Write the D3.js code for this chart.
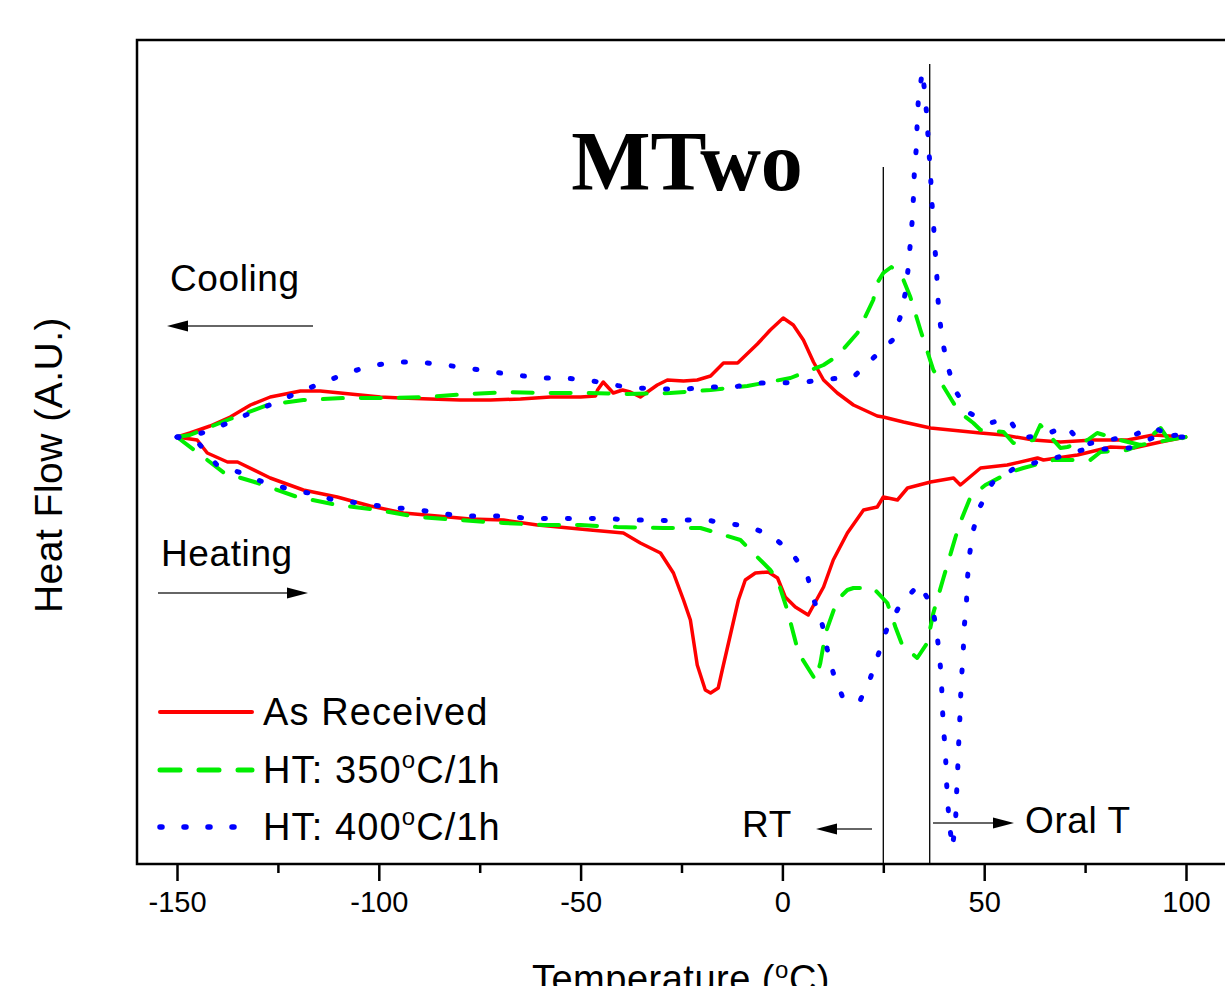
<!DOCTYPE html>
<html>
<head>
<meta charset="utf-8">
<script src="https://cdn.jsdelivr.net/npm/d3@7"></script>
<style>
  body { margin: 0; background: #fff; }
  svg text { font-family: "Liberation Sans", Arial, sans-serif; fill: #000; }
</style>
</head>
<body>
<div id="chart"></div>
<script>
// Temperature (deg C), heat flow (A.U.)
var asReceivedCooling = [
    [-150, 0], [-146.8, .04], [-141.8, .11], [-136.8, .20], [-131.8, .32], [-126.9, .40],
    [-121.9, .44], [-119.4, .46], [-114.5, .46], [-109.5, .44], [-104.6, .42], [-99.6, .40],
    [-94.6, .39], [-87.2, .38], [-79.8, .37], [-72.3, .37], [-64.9, .38], [-57.5, .40],
    [-50.0, .40], [-46.3, .41], [-45.8, .47], [-44.4, .55], [-41.9, .44], [-39.6, .47],
    [-37.7, .45], [-35.2, .40], [-31.0, .52], [-28.5, .57], [-24.5, .56], [-21.1, .57],
    [-17.8, .61], [-14.6, .74], [-11.1, .74], [-6.2, .93], [-3.0, 1.07], [0.2, 1.19],
    [2.7, 1.12], [5.2, .97], [7.7, .75], [10.2, .57], [13.6, .44], [17.6, .32], [23.5, .21],
    [25.0, .20], [30.0, .15], [36.7, .09], [49.1, .04], [54.8, .02], [62.2, -.03],
    [68.9, -.05], [77.1, -.03], [85.5, -.03], [91.9, .02], [99.9, 0]
];
var asReceivedHeating = [
    [-150, 0], [-145, -.03], [-142.5, -.16], [-137.5, -.25], [-135, -.25], [-126.9, -.41],
    [-118.7, -.53], [-110.3, -.60], [-102.1, -.69], [-93.9, -.76], [-85.5, -.79], [-77.3, -.82],
    [-69.1, -.83], [-60.7, -.88], [-47.6, -.93], [-39.4, -.96], [-35.2, -1.06], [-30.2, -1.16],
    [-27.0, -1.36], [-24.5, -1.63], [-22.8, -1.83], [-21.1, -2.28], [-19.1, -2.53], [-17.8, -2.56],
    [-15.9, -2.51], [-14.9, -2.33], [-12.9, -1.98], [-10.9, -1.63], [-9.2, -1.43], [-6.7, -1.36],
    [-3.5, -1.35], [-1.2, -1.41], [0.7, -1.60], [3.2, -1.70], [6.4, -1.78], [10.2, -1.50],
    [12.6, -1.23], [16.1, -.96], [20.1, -.73], [23.5, -.70], [25.0, -.60], [28.5, -.63],
    [31.0, -.51], [36.7, -.45], [42.4, -.41], [44.1, -.48], [49.1, -.31], [55.7, -.28],
    [63.2, -.21], [64.7, -.23], [73.1, -.18], [81.3, -.10], [87.0, -.11], [93.7, -.05], [99.9, 0]
];
var ht350Cooling = [
    [-150, 0], [-146.8, .02], [-137.5, .17], [-127.6, .32], [-118.7, .37], [-108.5, .39],
    [-97.9, .39], [-88.0, .40], [-78.0, .43], [-68.1, .45], [-59.2, .44], [-48.3, .44],
    [-38.4, .43], [-27.8, .44], [-17.8, .47], [-8.7, .51], [2.0, .59], [10.2, .72], [13.6, .81],
    [18.6, 1.04], [22.5, 1.37], [23.5, 1.54], [25.0, 1.64], [27.0, 1.70], [29.5, 1.62],
    [31.7, 1.40], [34.2, 1.07], [37.4, .67], [42.4, .34], [44.1, .24], [47.3, .14], [49.1, .07],
    [54.8, .05], [57.2, -.06], [62.2, -.03], [63.9, .12], [68.9, -.11], [70.6, -.10],
    [75.6, -.03], [78.0, .04], [83.7, -.03], [88.7, -.08], [93.7, .09], [96.1, -.05], [99.9, 0]
];
var ht350Heating = [
    [-150, 0], [-142.5, -.23], [-138.3, -.36], [-130.8, -.45], [-120.2, -.60], [-110.3, -.68],
    [-100.3, -.73], [-90.4, -.80], [-80.5, -.83], [-69.1, -.86], [-59.2, -.88], [-50.0, -.88],
    [-40.9, -.90], [-29.5, -.91], [-20.3, -.91], [-10.4, -1.03], [-3.0, -1.33], [-1.2, -1.43],
    [1.2, -1.73], [4.0, -2.16], [8.2, -2.43], [9.4, -2.26], [10.7, -1.96], [13.6, -1.63],
    [16.1, -1.53], [17.6, -1.51], [22.5, -1.51], [26.0, -1.66], [28.0, -1.90], [29.7, -2.08],
    [33.4, -2.21], [35.9, -2.06], [37.4, -1.76], [39.9, -1.41], [42.9, -1.00], [44.1, -.85],
    [46.6, -.60], [50.3, -.48], [56.5, -.35], [59.7, -.31], [67.1, -.23], [76.3, -.23],
    [78.8, -.15], [85.5, -.13], [88.7, -.08], [99.9, 0]
];
var ht400Cooling = [
    [-150, 0], [-143.8, .04], [-138.0, .13], [-131.8, .24], [-125.9, .34], [-119.7, .45],
    [-113.5, .55], [-107.8, .64], [-102.1, .71], [-95.9, .75], [-89.9, .75], [-83.7, .72],
    [-78.0, .69], [-71.9, .65], [-66.2, .62], [-60.0, .59], [-54.3, .59], [-48.1, .57],
    [-42.1, .52], [-35.9, .49], [-30.2, .48], [-24.0, .48], [-17.8, .50], [-12.1, .50],
    [-6.2, .54], [-0.5, .54], [5.7, .55], [11.9, .58], [17.6, .60], [22.5, .79], [27.3, .97],
    [29.2, 1.20], [30.5, 1.45], [31.2, 1.70], [31.7, 1.94], [32.2, 2.18], [32.5, 2.42],
    [32.7, 2.66], [33.2, 2.90], [33.4, 3.15], [33.7, 3.39], [34.7, 3.66], [35.4, 3.39],
    [35.9, 3.15], [36.2, 2.90], [36.7, 2.66], [36.9, 2.41], [37.4, 2.17], [37.7, 1.93],
    [38.2, 1.69], [38.4, 1.45], [38.9, 1.21], [39.6, .97], [40.9, .72], [42.6, .48],
    [46.3, .24], [51.5, .14], [56.0, .19], [59.2, -.01], [64.9, .02], [70.4, .11],
    [74.3, -.08], [80.3, -.03], [86.0, 0], [91.7, .10], [96.9, 0], [99.9, 0]
];
var ht400Heating = [
    [-150, 0], [-144.5, -.07], [-140.1, -.28], [-134.0, -.36], [-128.1, -.46], [-122.2, -.52],
    [-116.2, -.57], [-110.3, -.64], [-104.1, -.66], [-98.4, -.70], [-92.2, -.72], [-86.2, -.75],
    [-80.3, -.79], [-74.3, -.79], [-68.6, -.79], [-61.9, -.82], [-56.2, -.81], [-50.3, -.82],
    [-44.4, -.81], [-38.4, -.83], [-32.2, -.83], [-26.5, -.84], [-20.3, -.82], [-14.6, -.86],
    [-8.7, -.89], [-3.0, -.98], [2.2, -1.15], [6.2, -1.39], [7.9, -1.64], [9.9, -1.88],
    [11.1, -2.12], [12.6, -2.36], [14.9, -2.60], [19.1, -2.65], [21.8, -2.41], [23.8, -2.17],
    [25.8, -1.93], [29.0, -1.69], [33.9, -1.47], [37.2, -1.70], [38.2, -1.94], [38.9, -2.18],
    [39.4, -2.42], [39.6, -2.67], [39.9, -2.91], [40.4, -3.15], [40.6, -3.39], [40.9, -3.63],
    [41.4, -3.87], [42.1, -4.11], [42.9, -3.86], [43.1, -3.61], [43.4, -3.37], [43.6, -3.13],
    [43.9, -2.89], [44.1, -2.65], [44.4, -2.40], [44.8, -2.16], [45.0, -1.92], [45.6, -1.67],
    [45.8, -1.44], [46.3, -1.20], [47.1, -.96], [48.8, -.71], [52.0, -.46], [57.2, -.32],
    [63.2, -.25], [68.4, -.20], [74.3, -.13], [80.3, -.12], [86.0, -.11], [91.7, -.01],
    [97.9, .02], [99.9, 0]
];

var majorTicks = [-150, -100, -50, 0, 50, 100];
var minorTicks = [-125, -75, -25, 25, 75];
var roomTemp = 25, oralTemp = 36.5;

var width = 1225, height = 986;

var svg = d3.select("#chart").append("svg")
    .attr("width", width)
    .attr("height", height);

// scales: -150 -> 177px, 100 -> 1186px ; heat flow 0 at 437px
var x = d3.scaleLinear().domain([-150, 100]).range([177, 1186]);
var y = d3.scaleLinear().domain([-4.26, 3.97]).range([863, 40]);

var plotLeft = 137, plotTop = 40, plotBottom = 864, plotRight = 1240;

var line = d3.line()
    .x(function (d) { return x(d[0]); })
    .y(function (d) { return y(d[1]); });

// vertical marker lines
svg.append("line")
    .attr("x1", x(roomTemp)).attr("x2", x(roomTemp))
    .attr("y1", y(2.7)).attr("y2", plotBottom)
    .attr("stroke", "#000").attr("stroke-width", 1.3);
svg.append("line")
    .attr("x1", x(oralTemp)).attr("x2", x(oralTemp))
    .attr("y1", y(3.73)).attr("y2", plotBottom)
    .attr("stroke", "#000").attr("stroke-width", 1.3);

// curves
var styles = [
    { data: [asReceivedCooling, asReceivedHeating], color: "#ff0000", width: 3.5, dash: null },
    { data: [ht350Cooling, ht350Heating], color: "#00ee00", width: 4, dash: "20,18" },
    { data: [ht400Cooling, ht400Heating], color: "#0000ff", width: 5, dash: "2,22" }
];

styles.forEach(function (s) {
    s.data.forEach(function (branch) {
        svg.append("path")
            .datum(branch)
            .attr("d", line)
            .attr("fill", "none")
            .attr("stroke", s.color)
            .attr("stroke-width", s.width)
            .attr("stroke-linecap", "round")
            .attr("stroke-linejoin", "round")
            .attr("stroke-dasharray", s.dash);
    });
});

// frame
svg.append("rect")
    .attr("x", plotLeft).attr("y", plotTop)
    .attr("width", plotRight - plotLeft).attr("height", plotBottom - plotTop)
    .attr("fill", "none").attr("stroke", "#000").attr("stroke-width", 2.5);

// x axis
var axis = svg.append("g").attr("transform", "translate(0," + plotBottom + ")");
axis.call(d3.axisBottom(x).tickValues(majorTicks).tickSize(17).tickPadding(10)
    .tickFormat(function (d) { return String(d); }));
axis.select(".domain").remove();
axis.selectAll(".tick line").attr("stroke", "#000").attr("stroke-width", 2.5);
axis.selectAll(".tick text")
    .style("font-family", "Liberation Sans, Arial, sans-serif")
    .style("font-size", "29px");

var minor = svg.append("g").attr("transform", "translate(0," + plotBottom + ")");
minor.call(d3.axisBottom(x).tickValues(minorTicks).tickSize(9).tickFormat(""));
minor.select(".domain").remove();
minor.selectAll(".tick line").attr("stroke", "#000").attr("stroke-width", 2.5);

// axis titles
var xTitle = svg.append("text")
    .attr("x", 681).attr("y", 992)
    .attr("text-anchor", "middle")
    .style("font-size", "38px")
    .style("letter-spacing", "0.5px");
xTitle.append("tspan").text("Temperature (");
xTitle.append("tspan").attr("dy", -14).style("font-size", "24px").text("o");
xTitle.append("tspan").attr("dy", 14).text("C)");

svg.append("text")
    .attr("transform", "translate(62,465) rotate(-90)")
    .attr("text-anchor", "middle")
    .style("font-size", "39px")
    .style("letter-spacing", "0.5px")
    .text("Heat Flow (A.U.)");

// title
svg.append("text")
    .attr("x", 687).attr("y", 190)
    .attr("text-anchor", "middle")
    .style("font-family", "Liberation Serif, Times New Roman, serif")
    .style("font-weight", "bold")
    .style("font-size", "84px")
    .text("MTwo");

// annotations with arrows
function arrow(x1, x2, yy) {
    var dir = x2 > x1 ? 1 : -1;
    svg.append("line")
        .attr("x1", x1).attr("x2", x2 - dir * 10)
        .attr("y1", yy).attr("y2", yy)
        .attr("stroke", "#333").attr("stroke-width", 1.5);
    svg.append("path")
        .attr("d", "M" + x2 + "," + yy + " L" + (x2 - dir * 21) + "," + (yy - 5.5) +
            " L" + (x2 - dir * 21) + "," + (yy + 5.5) + " Z")
        .attr("fill", "#000");
}

function note(tx, ty, label) {
    svg.append("text").attr("x", tx).attr("y", ty)
        .style("font-size", "37px").style("letter-spacing", "0.6px").text(label);
}

note(170, 291, "Cooling");
arrow(313, 167, 326);
note(161, 566, "Heating");
arrow(158, 308, 593);
note(742, 837, "RT");
arrow(872, 816, 829);
note(1025, 833, "Oral T");
arrow(933, 1014, 823);

// legend
var legendRows = [
    { label: ["As Received"], color: "#ff0000", width: 4, dash: null, y: 712 },
    { label: ["HT: 350", "C/1h"], color: "#00ee00", width: 5, dash: "20,19", y: 770 },
    { label: ["HT: 400", "C/1h"], color: "#0000ff", width: 5.5, dash: "2,22", y: 827 }
];
legendRows.forEach(function (r, i) {
    svg.append("line")
        .attr("x1", 160).attr("x2", i === 2 ? 236 : 252)
        .attr("y1", r.y).attr("y2", r.y)
        .attr("stroke", r.color).attr("stroke-width", r.width)
        .attr("stroke-linecap", "round")
        .attr("stroke-dasharray", r.dash);
    var t = svg.append("text").attr("x", 263).attr("y", r.y + 13)
        .style("font-size", "38px").style("letter-spacing", "1.1px");
    t.append("tspan").text(r.label[0]);
    if (r.label.length > 1) {
        t.append("tspan").attr("dy", -15).style("font-size", "24px").text("o");
        t.append("tspan").attr("dy", 15).text(r.label[1]);
    }
});
</script>
</body>
</html>
